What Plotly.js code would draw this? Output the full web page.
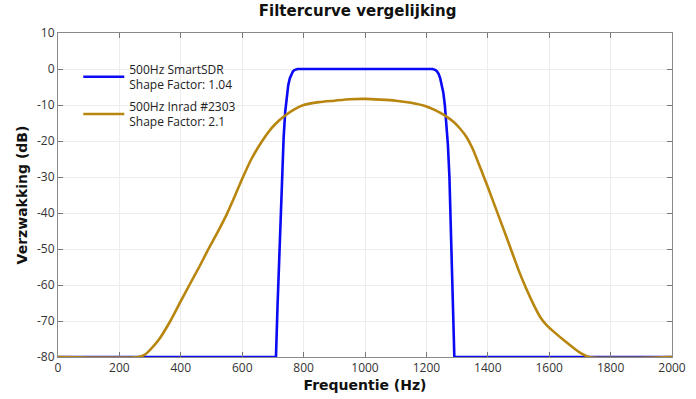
<!DOCTYPE html>
<html>
<head>
<meta charset="utf-8">
<script src="https://cdn.plot.ly/plotly-3.0.1.min.js"></script>
<style>html,body{margin:0;padding:0;background:#fff;}#chart{width:696px;height:399px;}</style>
</head>
<body>
<div id="chart"></div>
<script>
// SmartSDR 500 Hz filter
const freqSDR = [0, 700, 710, 715, 720, 725, 730, 735, 740, 745, 750, 755, 760, 765, 770, 775, 780,
  1220, 1225, 1230, 1235, 1240, 1245, 1250, 1255, 1260, 1265, 1270, 1275, 1280, 1285, 1291, 2000];
const dbSDR = [-80, -80, -80, -66, -53, -40, -28, -19, -12, -7.5, -4.5, -2.6, -1.4, -0.7, -0.3, -0.1, 0,
  0, -0.1, -0.3, -0.7, -1.4, -2.6, -4.3, -6.5, -10, -14.5, -21, -30, -45, -60, -80, -80];

// Inrad #2303 500 Hz filter
const freqInrad = [0, 262, 280, 300, 330, 366, 400, 428, 460, 490, 520, 550, 575, 600, 630, 665, 695, 720, 740,
  770, 800, 850, 900, 950, 1000, 1050, 1100, 1150, 1200, 1230, 1262, 1290, 1310, 1330, 1350, 1375, 1400, 1425, 1450,
  1475, 1500, 1525, 1550, 1570, 1590, 1610, 1650, 1700, 1730, 2000];
const dbInrad = [-80, -80, -79.5, -78, -75, -70, -64.5, -60, -55, -50, -45.3, -40.3, -35.5, -30.5, -25, -20, -16.5, -14.3, -12.9,
  -11.2, -10, -9.2, -8.8, -8.4, -8.3, -8.5, -8.8, -9.4, -10.4, -11.5, -13, -14.8, -16.6, -18.8, -22, -27.3, -32.8, -38.5, -44.2,
  -50, -55.8, -61, -65.6, -68.8, -71, -72.6, -75.5, -78.8, -80, -80];

const xTicks = [0, 200, 400, 600, 800, 1000, 1200, 1400, 1600, 1800, 2000];
const yTicks = [10, 0, -10, -20, -30, -40, -50, -60, -70, -80];
const yTickText = ['10', '0', '-10', '-20', '-30', '-40', '-50', '-60', '-70', '-80'];

const seriesNames = ['500Hz SmartSDR<br>Shape Factor: 1.04', '500Hz Inrad #2303<br>Shape Factor: 2.1'];

const traces = [
  {x: freqSDR, y: dbSDR, type: 'scatter', mode: 'lines', name: seriesNames[0], legendgroup: 'a',
   line: {color: '#0a0af5', width: 2.6}},
  {x: freqInrad, y: dbInrad, type: 'scatter', mode: 'lines', name: seriesNames[1], legendgroup: 'b',
   line: {color: '#b8860f', width: 2.6, shape: 'spline', smoothing: 0.6}}
];

const axisCommon = {
  showline: true, linecolor: '#8a8a8a', linewidth: 1, mirror: 'ticks',
  ticks: 'inside', ticklen: 5, tickcolor: '#777', tickwidth: 1,
  showgrid: true, gridcolor: '#ececec', gridwidth: 1, zeroline: false,
  tickfont: {family: 'Open Sans, sans-serif', size: 12, color: '#333'}
};

const layout = {
  width: 696, height: 399,
  margin: {l: 58, r: 24, t: 33, b: 42},
  paper_bgcolor: '#fff', plot_bgcolor: '#fff',
  title: {text: '<b>Filtercurve vergelijking</b>', x: 0.488, xref: 'paper', y: 0.972, yanchor: 'middle',
          font: {family: 'DejaVu Sans, sans-serif', size: 15, color: '#111'}},
  xaxis: Object.assign({}, axisCommon, {range: [0, 2000], tickvals: xTicks,
    title: {text: '<b>Frequentie (Hz)</b>', standoff: 4, font: {family: 'DejaVu Sans, sans-serif', size: 14, color: '#111'}}}),
  yaxis: Object.assign({}, axisCommon, {range: [-80, 10], tickvals: yTicks, ticktext: yTickText,
    title: {text: '<b>Verzwakking (dB)</b>', standoff: 6, font: {family: 'DejaVu Sans, sans-serif', size: 14, color: '#111'}}}),
  showlegend: true,
  legend: {x: 0.033, y: 0.933, xanchor: 'left', yanchor: 'top', bgcolor: 'rgba(255,255,255,0)',
           itemwidth: 41, traceorder: 'grouped',
           font: {family: 'Open Sans, sans-serif', size: 12, color: '#222'}, tracegroupgap: 3}
};

Plotly.newPlot('chart', traces, layout, {displayModeBar: false, staticPlot: true});
</script>
</body>
</html>
